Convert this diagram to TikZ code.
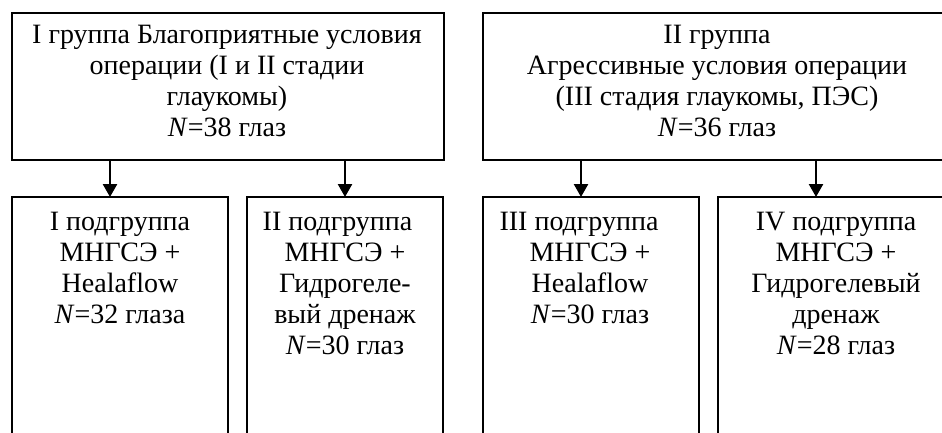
\documentclass[tikz,border=0pt]{standalone}
\usepackage{fontspec}
\setmainfont{Liberation Serif}
\usetikzlibrary{arrows.meta}
\begin{document}
\begin{tikzpicture}[x=1pt,y=-1pt,
  box/.style={draw, line width=1.2pt, rectangle, inner sep=0pt, outer sep=0pt, anchor=north west},
  txt/.style={align=center, inner sep=0pt, anchor=north, font=\fontsize{28}{31}\selectfont},
  arr/.style={line width=2.5pt, -{Triangle[length=13pt,width=14pt]}}]
\useasboundingbox (0,0) rectangle (942,432);
\clip (0,0) rectangle (942,432);
% top boxes
\node[box, minimum width=432pt, minimum height=147pt] (g1) at (12,13) {};
\node[box, minimum width=468pt, minimum height=147pt] (g2) at (483,13) {};
% bottom boxes
\node[box, minimum width=216pt, minimum height=300pt] (s1) at (12,197) {};
\node[box, minimum width=196pt, minimum height=300pt] (s2) at (247,197) {};
\node[box, minimum width=216pt, minimum height=300pt] (s3) at (483,197) {};
\node[box, minimum width=236pt, minimum height=300pt] (s4) at (718,197) {};
% texts
\node[txt] (tg1) at (227,24.5) {I группа Благоприятные условия\\операции (I и II стадии\\глаукомы)\\\textit{N}=38 глаз};
\node[txt] (tg2) at (717,24.5) {II группа\\Агрессивные условия операции\\(III стадия глаукомы, ПЭС)\\\textit{N}=36 глаз};
\node[txt] (ts1) at (120,211.5) {I подгруппа\\МНГСЭ +\\Healaflow\\\textit{N}=32 глаза};
\node[txt] (ts2) at (345,211.5) {II подгруппа\hspace*{15pt}\\МНГСЭ +\\Гидрогеле-\hspace*{7pt}\\вый дренаж\\\textit{N}=30 глаз};
\node[txt] (ts3) at (590,211.5) {III подгруппа\hspace*{22pt}\\МНГСЭ +\\Healaflow\\\textit{N}=30 глаз};
\node[txt] (ts4) at (836,211.5) {IV подгруппа\\МНГСЭ +\\Гидрогелевый\\дренаж\\\textit{N}=28 глаз};
% arrows
\draw[arr] ([xshift=98pt]g1.south west) -- ([xshift=98pt]g1.south west |- s1.north);
\draw[arr] ([xshift=333pt]g1.south west) -- ([xshift=333pt]g1.south west |- s2.north);
\draw[arr] ([xshift=98pt]g2.south west) -- ([xshift=98pt]g2.south west |- s3.north);
\draw[arr] ([xshift=333pt]g2.south west) -- ([xshift=333pt]g2.south west |- s4.north);
\end{tikzpicture}
\end{document}
